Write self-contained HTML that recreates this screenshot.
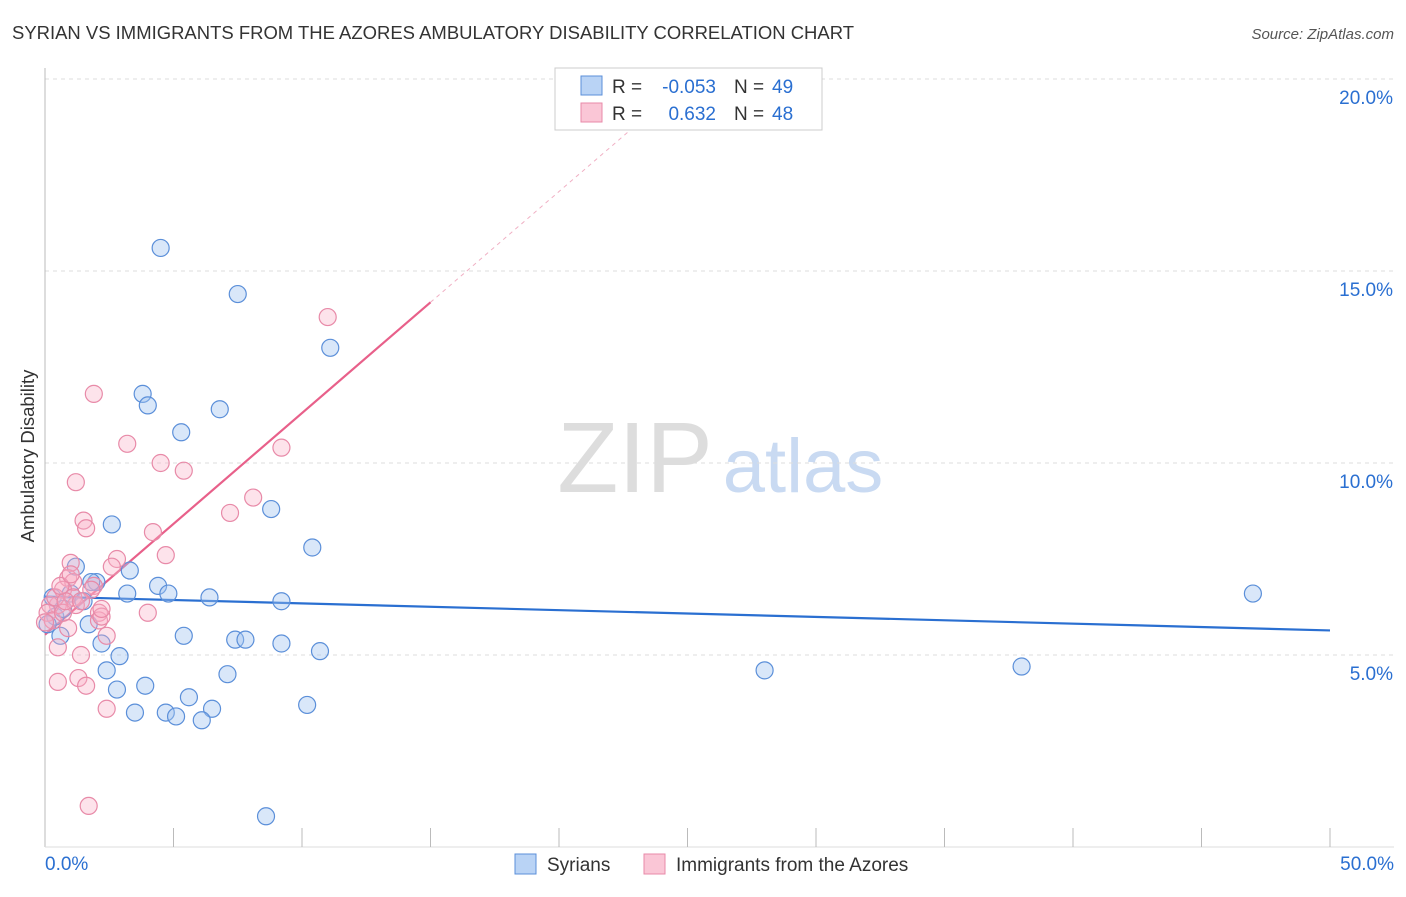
<!DOCTYPE html>
<html><head><meta charset="utf-8"><style>
body{margin:0;background:#fff;font-family:"Liberation Sans",sans-serif}
svg text{font-family:"Liberation Sans",sans-serif}
</style></head><body>
<svg id="c" width="1406" height="892">
<text x="12" y="39" font-size="18" fill="#333" textLength="842" lengthAdjust="spacingAndGlyphs">SYRIAN VS IMMIGRANTS FROM THE AZORES AMBULATORY DISABILITY CORRELATION CHART</text>
<text x="1394" y="39" font-size="15" fill="#555" font-style="italic" text-anchor="end">Source: ZipAtlas.com</text>
<text x="34" y="456" font-size="18.5" fill="#333" text-anchor="middle" transform="rotate(-90 34 456)">Ambulatory Disability</text>
<g><text x="635" y="492" font-size="100" fill="#ddd" font-family="Liberation Serif" text-anchor="middle">ZIP</text><text x="803" y="492" font-size="76" fill="#c9daf2" text-anchor="middle">atlas</text></g>
<g id="grid"></g><g id="axes"></g><g id="lines"></g><g id="pts"></g>
<g>
<rect x="555" y="68" width="267" height="62" fill="#fff" stroke="#ccc"/>
<rect x="581" y="76" width="21" height="19" fill="#b9d3f5" stroke="#5b8fd9"/>
<rect x="581" y="103" width="21" height="19" fill="#fac6d6" stroke="#e88aa8"/>
<text x="612" y="93" font-size="19" fill="#333">R =</text>
<text x="716" y="93" font-size="19" fill="#2a6fd1" text-anchor="end">-0.053</text>
<text x="734" y="93" font-size="19" fill="#333">N =</text>
<text x="772" y="93" font-size="19" fill="#2a6fd1">49</text>
<text x="612" y="120" font-size="19" fill="#333">R =</text>
<text x="716" y="120" font-size="19" fill="#2a6fd1" text-anchor="end">0.632</text>
<text x="734" y="120" font-size="19" fill="#333">N =</text>
<text x="772" y="120" font-size="19" fill="#2a6fd1">48</text>
</g>
<g>
<rect x="515" y="854" width="21" height="20" fill="#b9d3f5" stroke="#5b8fd9"/>
<text x="547" y="871" font-size="19" fill="#333">Syrians</text>
<rect x="644" y="854" width="21" height="20" fill="#fac6d6" stroke="#e88aa8"/>
<text x="676" y="871" font-size="19" fill="#333">Immigrants from the Azores</text>
</g>
</svg>
<script>
const yTicks=[5,10,15,20];
const yTickLabels=["5.0%","10.0%","15.0%","20.0%"];
const xTickLabels=["0.0%","50.0%"];
const syrX=[4.5,7.5,11.1,3.8,4.0,6.8,5.3,8.8,2.6,10.4,1.2,3.3,2.0,4.4,4.8,3.2,6.4,9.2,1.0,1.7,0.6,5.4,7.4,7.8,2.2,9.2,10.7,2.9,2.4,7.1,2.8,3.9,5.6,3.5,4.7,6.5,5.1,6.1,10.2,8.6,28.0,38.0,47.0,0.3,0.4,0.1,0.7,1.5,1.8];
const syrY=[15.6,14.4,13.0,11.8,11.5,11.4,10.8,8.8,8.4,7.8,7.3,7.2,6.9,6.8,6.6,6.6,6.5,6.4,6.6,5.8,5.5,5.5,5.4,5.4,5.3,5.3,5.1,4.97,4.6,4.5,4.1,4.2,3.9,3.5,3.5,3.6,3.4,3.3,3.7,0.8,4.6,4.7,6.6,6.5,6.0,5.8,6.2,6.4,6.9];
const azX=[11.0,1.9,3.2,4.5,5.4,9.2,1.2,8.1,7.2,1.5,1.6,4.2,4.7,2.8,1.0,2.6,0.9,1.1,1.9,0.7,1.1,0.5,1.2,2.1,2.1,4.0,0.9,2.4,0.5,1.4,0.5,1.3,1.6,2.4,1.7,0.2,0.4,0.1,0.3,0.7,0.8,0.0,1.8,1.4,0.6,2.2,1.0,2.2];
const azY=[13.8,11.8,10.5,10.0,9.8,10.4,9.5,9.1,8.7,8.5,8.3,8.2,7.6,7.5,7.4,7.3,7.0,6.9,6.8,6.7,6.5,6.3,6.3,6.1,5.9,6.1,5.7,5.5,5.2,5.0,4.3,4.4,4.2,3.6,1.07,6.3,6.5,6.1,5.9,6.1,6.4,5.85,6.7,6.4,6.8,6.0,7.1,6.2];
const syrLine=[6.52,5.64];
const azLine=[5.53,0.577];
const X=v=>45+v*25.7, Y=v=>847-v*38.4;
const NS="http://www.w3.org/2000/svg";
function mk(t,a,p){const e=document.createElementNS(NS,t);for(const k in a)e.setAttribute(k,a[k]);p.appendChild(e);return e;}
const grid=document.getElementById('grid'),axes=document.getElementById('axes'),lines=document.getElementById('lines'),pts=document.getElementById('pts');
yTicks.forEach((t,i)=>{
 const l=mk('line',{x1:45,x2:1394,y1:Y(t),y2:Y(t),stroke:'#ddd','stroke-dasharray':'4,4'},grid);
 
 
 const tx=mk('text',{x:1393,y:Y(t)+25,'font-size':19,fill:'#2a6fd1','text-anchor':'end'},axes);
 tx.textContent=yTickLabels[i];
 
 
});
mk('line',{x1:45,x2:45,y1:68,y2:847,stroke:'#bbb'},axes);
mk('line',{x1:45,x2:1394,y1:847,y2:847,stroke:'#ddd'},axes);
for(let i=1;i<=10;i++){const tk=mk('line',{x1:X(i*5),x2:X(i*5),y1:828,y2:847,stroke:'#bbb'},axes);
 
 }
[[0,'start',45],[50,'end',1394]].forEach((d,i)=>{const tx=mk('text',{x:d[2],y:870,'font-size':19,fill:'#2a6fd1','text-anchor':d[1]},axes);tx.textContent=xTickLabels[i];
 
 });
function dots(xs,ys,fill,stroke,name){xs.forEach((x,i)=>{const c=mk('circle',{cx:X(x),cy:Y(ys[i]),r:8.5,fill:fill,stroke:stroke,'stroke-width':1.2},pts);
 
 });}
dots(syrX,syrY,'rgba(160,195,240,0.4)','#5b8fd9','point-syrian');
dots(azX,azY,'rgba(248,175,198,0.35)','#e88aa8','point-azores');
const bl=mk('line',{x1:X(0),y1:Y(syrLine[0]),x2:X(50),y2:Y(syrLine[1]),stroke:'#2a6fd1','stroke-width':2.2},lines);


const pl=mk('line',{x1:X(0),y1:Y(azLine[0]),x2:X(15),y2:Y(azLine[0]+azLine[1]*15),stroke:'#e8608a','stroke-width':2.2},lines);


const pd=mk('line',{x1:X(15),y1:Y(azLine[0]+azLine[1]*15),x2:X(25),y2:Y(azLine[0]+azLine[1]*25),stroke:'#f0b0c4','stroke-width':1,'stroke-dasharray':'4,4'},lines);


</script>
</body></html>
